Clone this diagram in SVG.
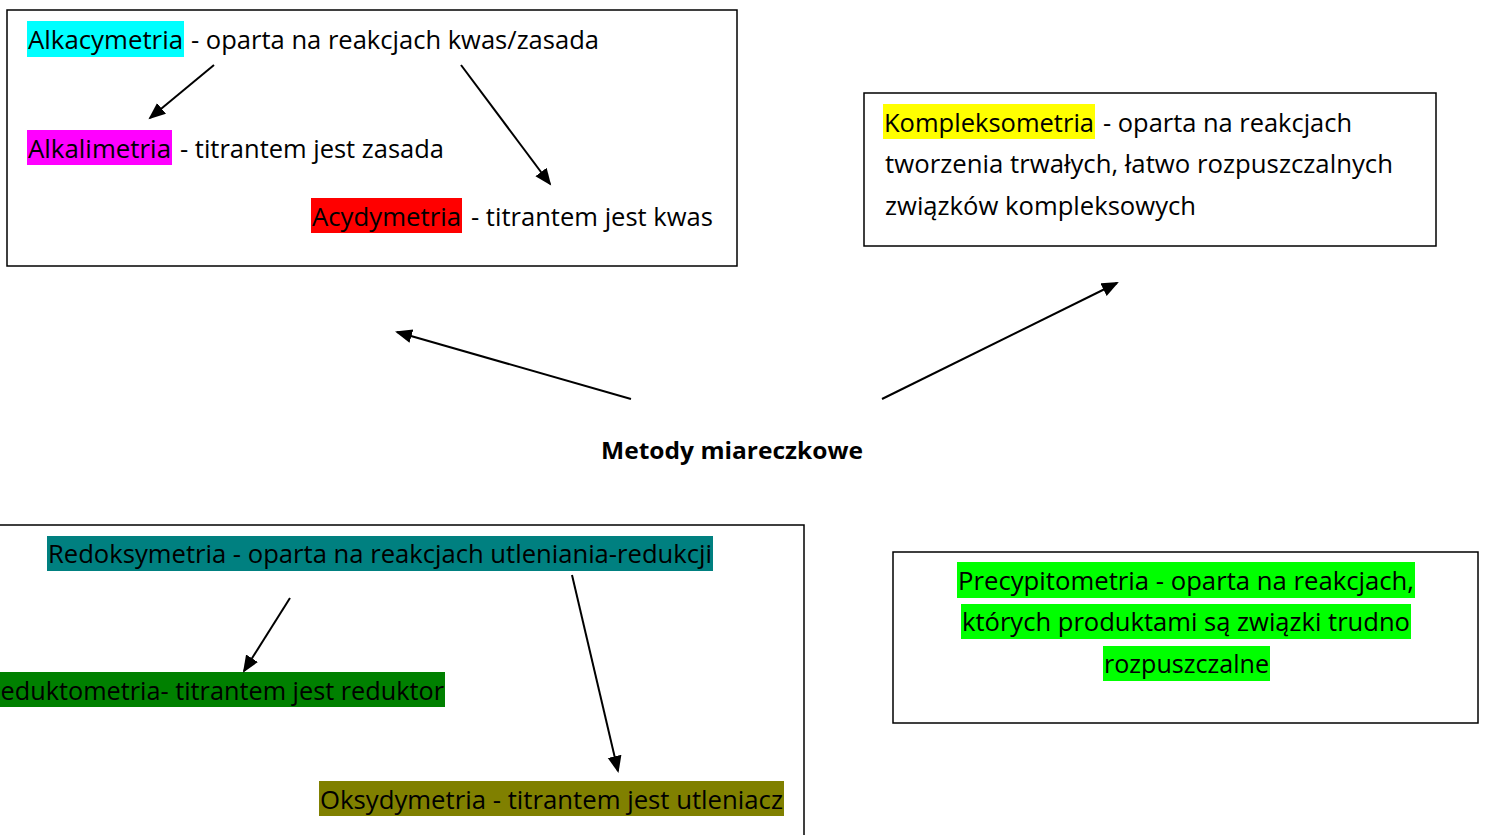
<svg xmlns="http://www.w3.org/2000/svg" width="1485" height="835" viewBox="0 0 1485 835">
<style>
.box{fill:#fff;stroke:#000;stroke-width:1.5}
.t{font-family:"Open Sans","Noto Sans","Liberation Sans",sans-serif;font-size:26px;fill:#000}
.b{font-family:"Open Sans","Noto Sans","Liberation Sans",sans-serif;font-size:24px;font-weight:bold;fill:#000}
.c{stroke:#000;stroke-width:2;fill:none;marker-end:url(#ah)}
</style>
<defs>
<marker id="ah" markerUnits="userSpaceOnUse" markerWidth="18" markerHeight="16" refX="15" refY="7" orient="auto">
<path d="M0,0 L17,7 L0,14 z" fill="#000"/>
</marker>
</defs>
<rect width="1485" height="835" fill="#fff"/>

<g id="alkacymetria">
<rect class="box" x="7" y="10" width="730" height="256"/>
<rect x="27" y="21" width="157" height="36" fill="#00ffff"/>
<text class="t" x="28" y="49" textLength="155" lengthAdjust="spacingAndGlyphs">Alkacymetria</text>
<text class="t" x="191" y="49" textLength="408" lengthAdjust="spacingAndGlyphs">- oparta na reakcjach kwas/zasada</text>
<rect x="27" y="130" width="145" height="35" fill="#ff00ff"/>
<text class="t" x="28" y="158" textLength="143" lengthAdjust="spacingAndGlyphs">Alkalimetria</text>
<text class="t" x="180" y="158" textLength="264" lengthAdjust="spacingAndGlyphs">- titrantem jest zasada</text>
<rect x="311" y="198" width="151" height="35" fill="#ff0000"/>
<text class="t" x="312" y="226" textLength="149" lengthAdjust="spacingAndGlyphs">Acydymetria</text>
<text class="t" x="471" y="226" textLength="242" lengthAdjust="spacingAndGlyphs">- titrantem jest kwas</text>
</g>

<g id="kompleksometria">
<rect class="box" x="864" y="93" width="572" height="153"/>
<rect x="883" y="104" width="212" height="35" fill="#ffff00"/>
<text class="t" x="884" y="132" textLength="210" lengthAdjust="spacingAndGlyphs">Kompleksometria</text>
<text class="t" x="1103" y="132" textLength="249" lengthAdjust="spacingAndGlyphs">- oparta na reakcjach</text>
<text class="t" x="885" y="173" textLength="508" lengthAdjust="spacingAndGlyphs">tworzenia trwałych, łatwo rozpuszczalnych</text>
<text class="t" x="885" y="215" textLength="311" lengthAdjust="spacingAndGlyphs">związków kompleksowych</text>
</g>

<g id="metody">
<text class="b" x="601" y="459" textLength="262" lengthAdjust="spacingAndGlyphs">Metody miareczkowe</text>
</g>

<g id="redoksymetria">
<rect class="box" x="-10" y="525" width="814" height="330"/>
<rect x="47" y="536" width="666" height="35" fill="#008080"/>
<text class="t" x="48" y="563" textLength="664" lengthAdjust="spacingAndGlyphs">Redoksymetria - oparta na reakcjach utleniania-redukcji</text>
<rect x="-16" y="672" width="461" height="35" fill="#008000"/>
<text class="t" x="-15" y="700" textLength="459" lengthAdjust="spacingAndGlyphs">Reduktometria- titrantem jest reduktor</text>
<rect x="319" y="781" width="465" height="35" fill="#808000"/>
<text class="t" x="320" y="809" textLength="463" lengthAdjust="spacingAndGlyphs">Oksydymetria - titrantem jest utleniacz</text>
</g>

<g id="precypitometria">
<rect class="box" x="893" y="552" width="585" height="171"/>
<rect x="957" y="562" width="458" height="36" fill="#00ff00"/>
<text class="t" x="958" y="590" textLength="456" lengthAdjust="spacingAndGlyphs">Precypitometria - oparta na reakcjach,</text>
<rect x="961" y="604" width="450" height="35" fill="#00ff00"/>
<text class="t" x="962" y="631" textLength="448" lengthAdjust="spacingAndGlyphs">których produktami są związki trudno</text>
<rect x="1103" y="646" width="167" height="35" fill="#00ff00"/>
<text class="t" x="1104" y="673" textLength="165" lengthAdjust="spacingAndGlyphs">rozpuszczalne</text>
</g>

<g id="connectors">
<line class="c" x1="214" y1="65" x2="150" y2="118"/>
<line class="c" x1="461" y1="65" x2="550" y2="184"/>
<line class="c" x1="631" y1="399" x2="397" y2="332"/>
<line class="c" x1="882" y1="399" x2="1117" y2="283"/>
<line class="c" x1="290" y1="598" x2="244" y2="671"/>
<line class="c" x1="572" y1="575" x2="618" y2="771"/>
</g>
</svg>
